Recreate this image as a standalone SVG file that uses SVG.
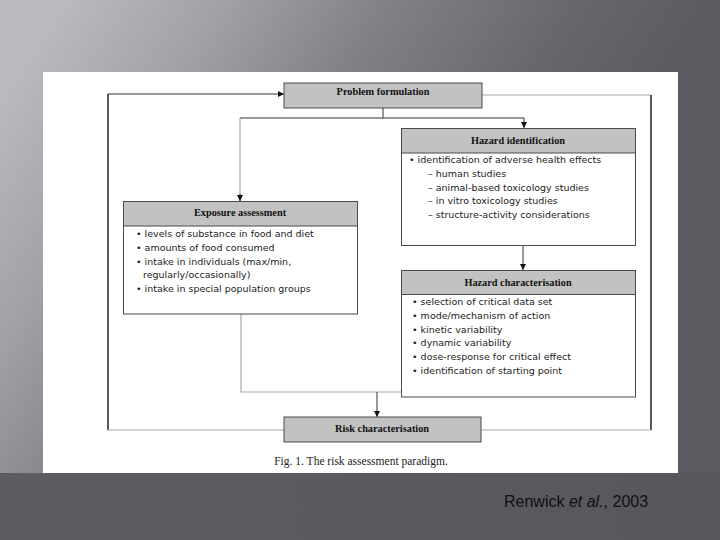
<svg xmlns="http://www.w3.org/2000/svg" width="720" height="540" viewBox="0 0 720 540">
<defs>
<linearGradient id="bg" gradientUnits="userSpaceOnUse" x1="60" y1="0" x2="520" y2="300">
<stop offset="0" stop-color="#bcbac0"/>
<stop offset="0.25" stop-color="#a3a1a7"/>
<stop offset="0.5" stop-color="#838188"/>
<stop offset="0.8" stop-color="#68656c"/>
<stop offset="1" stop-color="#5d5a61"/>
</linearGradient>
<linearGradient id="bot" x1="0" y1="0" x2="1" y2="0">
<stop offset="0" stop-color="#5e5c62"/>
<stop offset="1" stop-color="#59575d"/>
</linearGradient>
<marker id="ah" viewBox="0 0 10 10" refX="10" refY="5" markerWidth="6" markerHeight="6" markerUnits="userSpaceOnUse" orient="auto">
<path d="M0,0 L10,5 L0,10 z" fill="#111"/>
</marker>
<style>
.hdr{fill:#c2c2c2;stroke:#4a4a4a;stroke-width:1}
.body{fill:#fff;stroke:#4a4a4a;stroke-width:1}
.ht{font-family:"Liberation Serif",serif;font-weight:bold;font-size:10.3px;fill:#111;text-anchor:middle}
.bt{font-family:"DejaVu Sans",sans-serif;font-size:9.5px;fill:#222}
.ln{fill:none;stroke:#333;stroke-width:1}
.lg{fill:none;stroke:#a8a8a8;stroke-width:1.2}
.dk{fill:none;stroke:#222;stroke-width:1.5}
</style>
</defs>
<rect x="0" y="0" width="720" height="540" fill="url(#bg)"/>
<rect x="0" y="473" width="720" height="67" fill="url(#bot)"/>
<rect x="43" y="72" width="635" height="401" fill="#fff"/>

<g id="connectors">
<path class="dk" d="M108,430 L108,94"/>
<path class="ln" d="M108,94 L284,94" marker-end="url(#ah)"/>
<path class="lg" d="M108,430 L284,430"/>
<path class="lg" d="M482,95 L651,95"/>
<path class="dk" d="M651,95 L651,430"/>
<path class="lg" d="M651,430 L481,430"/>
<path class="ln" d="M383,108 L383,118"/>
<path class="ln" d="M240,118 L524,118"/>
<path class="ln" d="M524,118 L524,128" marker-end="url(#ah)"/>
<path class="lg" d="M240,118 L240,201"/>
<path class="ln" d="M240,194 L240,201" marker-end="url(#ah)"/>
<path class="ln" d="M523,245 L523,270" marker-end="url(#ah)"/>
<path class="lg" d="M241,314 L241,392 L402,392"/>
<path class="ln" d="M377,392 L377,417" marker-end="url(#ah)"/>
</g>

<g id="problem-formulation">
<rect class="hdr" x="284" y="83" width="198" height="25"/>
<text class="ht" x="383" y="95">Problem formulation</text>
</g>

<g id="hazard-identification">
<rect class="body" x="401.500" y="128.500" width="234" height="117"/>
<rect class="hdr" x="401.500" y="128.500" width="234" height="24.500"/>
<text class="ht" x="518" y="144">Hazard identification</text>
<text class="bt" x="409" y="163">• identification of adverse health effects</text>
<text class="bt" x="428" y="177">– human studies</text>
<text class="bt" x="428" y="191">– animal-based toxicology studies</text>
<text class="bt" x="428" y="204">– in vitro toxicology studies</text>
<text class="bt" x="428" y="218">– structure-activity considerations</text>
</g>

<g id="exposure-assessment">
<rect class="body" x="123.500" y="201.500" width="234" height="112.500"/>
<rect class="hdr" x="123.500" y="201.500" width="234" height="24.500"/>
<text class="ht" x="240" y="216">Exposure assessment</text>
<text class="bt" x="136" y="237">• levels of substance in food and diet</text>
<text class="bt" x="136" y="251">• amounts of food consumed</text>
<text class="bt" x="136" y="265">• intake in individuals (max/min,</text>
<text class="bt" x="143" y="278">regularly/occasionally)</text>
<text class="bt" x="136" y="292">• intake in special population groups</text>
</g>

<g id="hazard-characterisation">
<rect class="body" x="401.500" y="270.500" width="234" height="126.500"/>
<rect class="hdr" x="401.500" y="270.500" width="234" height="24"/>
<text class="ht" x="518" y="286">Hazard characterisation</text>
<text class="bt" x="412" y="305">• selection of critical data set</text>
<text class="bt" x="412" y="319">• mode/mechanism of action</text>
<text class="bt" x="412" y="333">• kinetic variability</text>
<text class="bt" x="412" y="346">• dynamic variability</text>
<text class="bt" x="412" y="360">• dose-response for critical effect</text>
<text class="bt" x="412" y="374">• identification of starting point</text>
</g>

<g id="risk-characterisation">
<rect class="hdr" x="284" y="417" width="197" height="25"/>
<text class="ht" x="382" y="432">Risk characterisation</text>
</g>

<text x="361" y="465" font-family="Liberation Serif, serif" font-size="11.5px" fill="#222" text-anchor="middle">Fig. 1.  The risk assessment paradigm.</text>
<text x="504" y="507" font-family="Liberation Sans, Arial, sans-serif" font-size="16px" fill="#111">Renwick <tspan font-style="italic">et al.</tspan>, 2003</text>
</svg>
